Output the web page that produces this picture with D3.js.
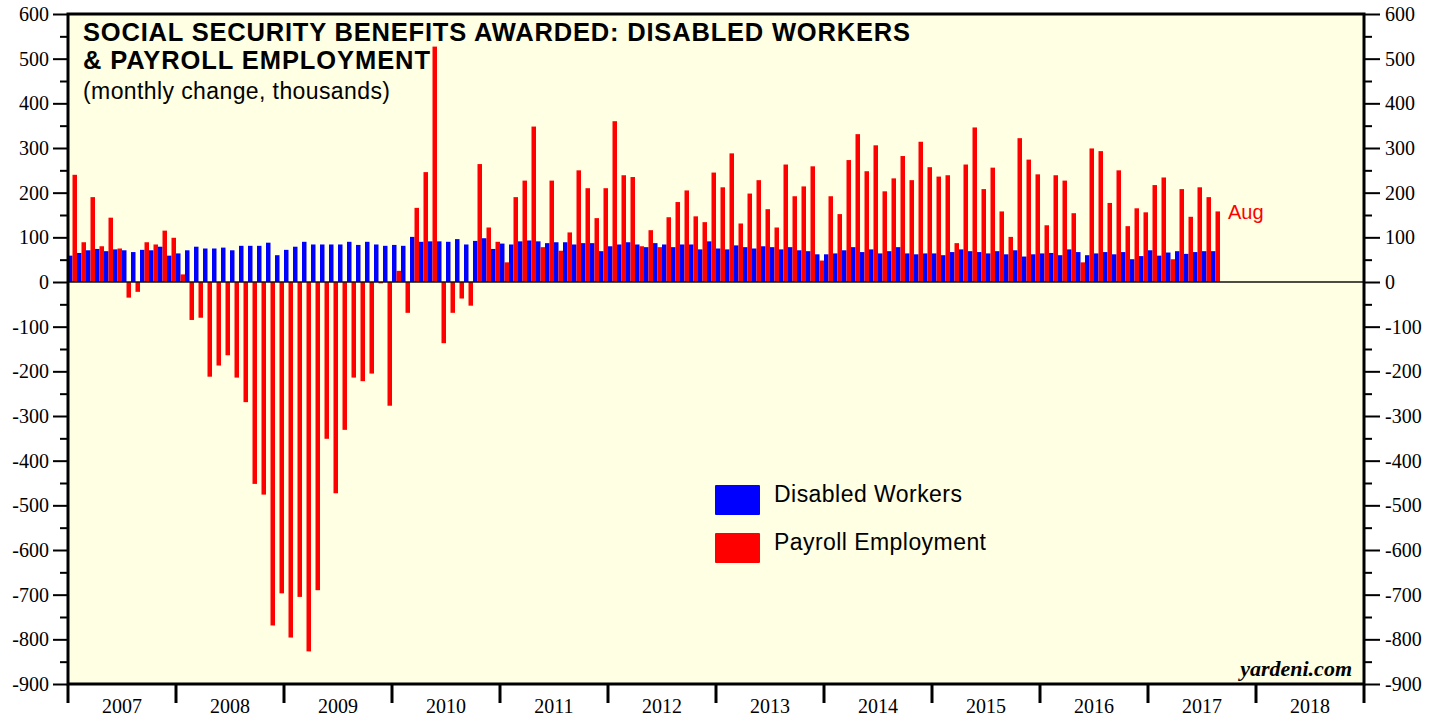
<!DOCTYPE html>
<html><head><meta charset="utf-8">
<script src="https://cdn.jsdelivr.net/npm/d3@7"></script>
<style>body{margin:0;background:#fff;overflow:hidden}</style>
</head><body>
<svg id="chart" width="1441" height="719"></svg>
<script>
// ---------- data ----------
const years = ['2007','2008','2009','2010','2011','2012','2013','2014','2015','2016','2017','2018'];
const seriesNames = ['Disabled Workers', 'Payroll Employment'];
const yTickValues = [-900,-800,-700,-600,-500,-400,-300,-200,-100,0,100,200,300,400,500,600];
const lastLabel = 'Aug';
// monthly, Jan 2007 .. Aug 2017 (thousands)
const disabledWorkers = [
  59, 65, 71, 74, 69, 73, 71, 67, 72, 71, 79, 59,
  64, 71, 79, 75, 75, 77, 71, 81, 81, 81, 88, 60,
  72, 79, 90, 84, 84, 84, 84, 90, 83, 90, 84, 81,
  83, 81, 101, 90, 91, 91, 90, 96, 84, 92, 98, 74,
  86, 84, 91, 93, 91, 87, 89, 89, 84, 87, 87, 69,
  80, 84, 89, 84, 78, 87, 84, 78, 84, 84, 73, 91,
  75, 73, 82, 78, 75, 80, 78, 73, 78, 71, 69, 62,
  62, 64, 71, 78, 67, 73, 64, 69, 78, 64, 62, 64,
  64, 60, 67, 73, 69, 67, 64, 69, 62, 71, 57, 62,
  64, 65, 60, 73, 67, 60, 64, 67, 62, 67, 51, 58,
  71, 59, 66, 69, 63, 67, 69, 69
];
const payrollEmployment = [
  240, 89, 190, 80, 144, 75, -35, -22, 89, 84, 115, 99,
  17, -85, -80, -212, -187, -164, -214, -269, -452, -476, -769, -697,
  -796, -705, -827, -690, -351, -473, -331, -214, -222, -205, -3, -277,
  25, -69, 166, 246, 527, -137, -69, -37, -53, 264, 122, 90,
  44, 190, 227, 348, 78, 227, 70, 111, 250, 210, 143, 210,
  360, 239, 235, 80, 116, 78, 145, 179, 205, 147, 134, 245,
  212, 288, 131, 198, 228, 163, 122, 263, 192, 214, 259, 48,
  192, 152, 273, 331, 248, 306, 203, 232, 282, 228, 314, 257,
  236, 239, 87, 263, 346, 208, 256, 158, 101, 322, 274, 241,
  127, 239, 227, 154, 44, 299, 293, 177, 250, 125, 165, 156,
  217, 234, 51, 208, 146, 212, 190, 158
];

// ---------- layout ----------
const L = 68, R = 1364, T = 14, B = 684;
const svg = d3.select('#chart');
const serif = '"Liberation Serif", "Times New Roman", serif';
const sans = '"Liberation Sans", Arial, Helvetica, sans-serif';

const monthIdx = d3.range(years.length * 12);
const x = d3.scaleBand().domain(monthIdx).range([L, R]).padding(0);
const sub = d3.scaleBand().domain(seriesNames).range([0, x.bandwidth()]).padding(0);
const y = d3.scaleLinear().domain([-900, 600]).range([B, T]);
const xYear = d3.scaleBand().domain(years).range([L, R]);

// plot background
svg.append('rect').attr('x', L).attr('y', T).attr('width', R - L).attr('height', B - T)
  .attr('fill', '#ffffe3');

// bars
const colors = {'Disabled Workers': '#0000ff', 'Payroll Employment': '#ff0000'};
function drawBars(values, name) {
  svg.append('g').selectAll('rect').data(values).join('rect')
    .attr('x', (d, i) => x(i) + sub(name))
    .attr('width', sub.bandwidth())
    .attr('y', d => y(Math.max(0, d)))
    .attr('height', d => Math.abs(y(d) - y(0)))
    .attr('fill', colors[name]);
}
drawBars(disabledWorkers, seriesNames[0]);
drawBars(payrollEmployment, seriesNames[1]);

// zero line
svg.append('line').attr('x1', L).attr('x2', R).attr('y1', y(0)).attr('y2', y(0))
  .attr('stroke', '#111').attr('stroke-width', 1.5);

// axes
const minorTicks = d3.range(-850, 600, 100);
function styleAxis(g) {
  g.select('.domain').remove();
  g.selectAll('line').attr('stroke', '#000').attr('stroke-width', 2);
  g.selectAll('text').attr('font-family', serif).attr('font-size', 20).attr('fill', '#000');
}
const fmt = d => String(d).replace('\u2212', '-');
svg.append('g').attr('transform', `translate(${L},0)`)
  .call(d3.axisLeft(y).tickValues(yTickValues).tickSize(15).tickPadding(4).tickFormat(fmt))
  .call(styleAxis);
svg.append('g').attr('transform', `translate(${L},0)`)
  .call(d3.axisLeft(y).tickValues(minorTicks).tickSize(8).tickFormat(''))
  .call(styleAxis);
svg.append('g').attr('transform', `translate(${R},0)`)
  .call(d3.axisRight(y).tickValues(yTickValues).tickSize(16).tickPadding(5).tickFormat(fmt))
  .call(styleAxis);
svg.append('g').attr('transform', `translate(${R},0)`)
  .call(d3.axisRight(y).tickValues(minorTicks).tickSize(8).tickFormat(''))
  .call(styleAxis);

// bottom axis: year boundaries + centered labels
const yearEdges = years.map(yr => xYear(yr)).concat([R]);
svg.append('g').selectAll('line').data(yearEdges).join('line')
  .attr('x1', d => d).attr('x2', d => d).attr('y1', B).attr('y2', B + 19)
  .attr('stroke', '#000').attr('stroke-width', 3);
svg.append('g').selectAll('text').data(years).join('text')
  .attr('x', d => xYear(d) + xYear.bandwidth() / 2).attr('y', 713)
  .attr('text-anchor', 'middle').attr('font-family', serif).attr('font-size', 20)
  .text(d => d);

// frame
svg.append('rect').attr('x', L).attr('y', T).attr('width', R - L).attr('height', B - T)
  .attr('fill', 'none').attr('stroke', '#000').attr('stroke-width', 3);

// title
const title = svg.append('g').attr('font-family', sans).attr('fill', '#000');
title.append('text').attr('x', 83).attr('y', 41).attr('font-size', 25.5).attr('font-weight', 'bold')
  .attr('textLength', 827).attr('lengthAdjust', 'spacing')
  .text('SOCIAL SECURITY BENEFITS AWARDED: DISABLED WORKERS');
title.append('text').attr('x', 83).attr('y', 69).attr('font-size', 25.5).attr('font-weight', 'bold')
  .attr('textLength', 347).attr('lengthAdjust', 'spacing')
  .text('& PAYROLL EMPLOYMENT');
title.append('text').attr('x', 83).attr('y', 99).attr('font-size', 23)
  .attr('textLength', 307).attr('lengthAdjust', 'spacing')
  .text('(monthly change, thousands)');

// legend
const legend = svg.append('g');
const legendLens = [188, 212];
seriesNames.forEach((name, i) => {
  legend.append('rect').attr('x', 715).attr('y', 485 + i * 48).attr('width', 45).attr('height', 30)
    .attr('rx', 1).attr('fill', colors[name]);
  legend.append('text').attr('x', 774).attr('y', 502 + i * 48)
    .attr('font-family', sans).attr('font-size', 23)
    .attr('textLength', legendLens[i]).attr('lengthAdjust', 'spacing')
    .text(name);
});

// last value label
const lastI = payrollEmployment.length - 1;
svg.append('text').attr('x', x(lastI) + x.bandwidth() + 8).attr('y', y(payrollEmployment[lastI]) + 8)
  .attr('font-family', sans).attr('font-size', 20).attr('fill', '#ff0000').text(lastLabel);

// source
svg.append('text').attr('x', 1352).attr('y', 676).attr('text-anchor', 'end')
  .attr('font-family', serif).attr('font-size', 22).attr('font-weight', 'bold').attr('font-style', 'italic')
  .text('yardeni.com');
</script>
</body></html>
